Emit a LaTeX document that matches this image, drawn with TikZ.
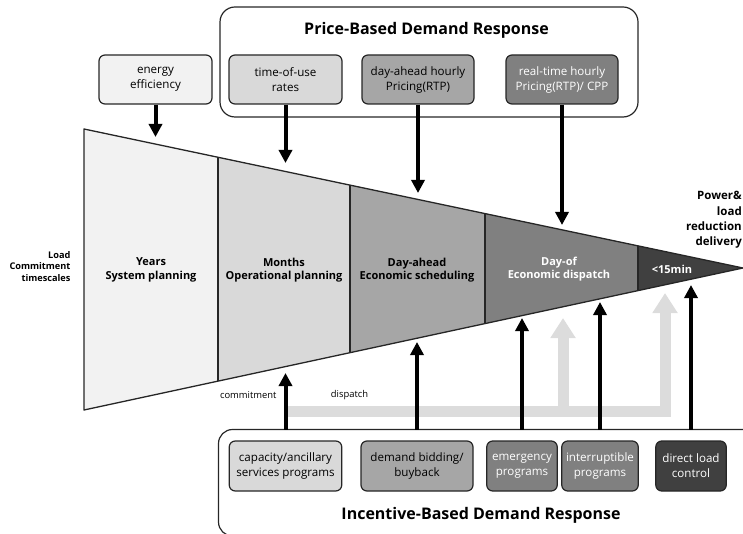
\documentclass[tikz,border=0pt]{standalone}
\usepackage{fontspec}
\setmainfont{Open Sans}
\usetikzlibrary{arrows.meta,calc}
\definecolor{s1}{HTML}{F2F2F2}
\definecolor{s2}{HTML}{D9D9D9}
\definecolor{s3}{HTML}{A6A6A6}
\definecolor{s4}{HTML}{808080}
\definecolor{s5}{HTML}{404040}
\definecolor{gband}{HTML}{DCDCDC}
\definecolor{edge}{HTML}{262626}
\begin{document}
\begin{tikzpicture}[x=1pt,y=-1pt,
  prog/.style={draw=edge, line width=1.2pt, rounded corners=6pt, align=center,
    inner sep=0pt, minimum height=49pt, font=\fontsize{11.6}{15}\selectfont},
  slab/.style={align=center, font=\bfseries\fontsize{11}{13.5}\selectfont},
  arr/.style={line width=4pt, -{Triangle[width=13pt,length=13pt]}},
  garr/.style={gband, line width=11pt, miter limit=10, -{Triangle[width=24pt,length=20pt]}},
  small/.style={font=\fontsize{9.4}{11}\selectfont},
  title/.style={font=\bfseries\fontsize{16}{19}\selectfont}
]
\useasboundingbox (0,0) rectangle (743,534);

% funnel slices
\fill[s1] (84,129) -- (218,157.3) -- (218,381.1) -- (84,410) -- cycle;
\fill[s2] (218,157.3) -- (350,185.1) -- (350,352.7) -- (218,381.1) -- cycle;
\fill[s3] (350,185.1) -- (485,213.6) -- (485,323.6) -- (350,352.7) -- cycle;
\fill[s4] (485,213.6) -- (638,245.8) -- (638,290.6) -- (485,323.6) -- cycle;
\fill[s5] (638,245.8) -- (743,268) -- (638,290.6) -- cycle;
\draw[edge, line width=1.2pt] (218,157.3) -- (218,381.1) (350,185.1) -- (350,352.7)
  (485,213.6) -- (485,323.6) (638,245.8) -- (638,290.6);
\draw[edge, line width=1.3pt, line join=round] (84,129) -- (743,268) -- (84,410) -- cycle;

% slice labels
\node[slab] (l1) at (151,270) {Years\\System planning};
\node[slab] (l2) at (284,270) {Months\\Operational planning};
\node[slab] (l3) at (417,270) {Day-ahead\\Economic scheduling};
\node[slab, text=white] (l4) at (559,269) {Day-of\\Economic dispatch};
\node[slab, text=white] (l5) at (672,269) {<15min};

\node[align=right, anchor=east, font=\bfseries\fontsize{9.2}{11.6}\selectfont] (lct) at (74,266.5) {Load\\Commitment\\timescales};
\node[align=right, anchor=east, inner sep=1pt, font=\bfseries\fontsize{11.5}{15.3}\selectfont] (prd) at (743,220) {Power\&\\load\\reduction\\delivery};

% price-based box
\draw[edge, line width=1.2pt, rounded corners=15pt] (220,7) rectangle (638,117);
\node[title] (ptitle) at (426.5,30) {Price-Based Demand Response};
\node[prog, fill=s1, minimum width=113pt] (ee) at (155.5,79.5) {energy\\efficiency};
\node[prog, fill=s2, minimum width=113pt] (tou) at (285.5,79.5) {time-of-use\\rates};
\node[prog, fill=s3, minimum width=112pt] (dah) at (418,79.5) {day-ahead hourly\\Pricing(RTP)};
\node[prog, fill=s4, minimum width=112pt, text=white] (rt) at (562,79.5) {real-time hourly\\Pricing(RTP)/ CPP};

% incentive-based box
\draw[edge, line width=1.2pt, rounded corners=14pt] (752,429.5) -- (218.5,429.5) -- (218.5,536) -- (752,536);
\node[title] (ititle) at (481,515) {Incentive-Based Demand Response};
\node[prog, fill=s2, minimum width=112.5pt, minimum height=50pt] (cap) at (285.5,466) {capacity/ancillary\\services programs};
\node[prog, fill=s3, minimum width=112pt, minimum height=50pt] (dem) at (417,466) {demand bidding/\\buyback};
\node[prog, fill=s4, minimum width=70.5pt, minimum height=50pt, text=white] (emg) at (522,466) {emergency\\programs};
\node[prog, fill=s4, minimum width=76.5pt, minimum height=50pt, text=white] (int) at (600,466) {interruptible\\programs};
\node[prog, fill=s5, minimum width=70.5pt, minimum height=50pt, text=white] (dlc) at (691,466) {direct load\\control};

% arrow targets
\coordinate (tee) at (155.5,137);
\coordinate (ttou) at (285.5,163);
\coordinate (tdah) at (418,193);
\coordinate (trt) at (562,225);
\coordinate (ib) at (0,429.5);
\coordinate (tcap) at (285.5,373);
\coordinate (tdem) at (417,342);
\coordinate (temg) at (522,318);
\coordinate (tint) at (600,302);
\coordinate (tdlc) at (691,285);
\coordinate (g0) at (287,411);
\coordinate (g1) at (665,411);
\coordinate (g2) at (665,293);
\coordinate (g3) at (563,411);
\coordinate (g4) at (563,318);

% gray dispatch arrows
\draw[garr] (g0) -- (g1) -- (g2);
\draw[garr] (g3) -- (g4);
\node[small, anchor=east] (com) at (280,395.5) {commitment};
\node[small] (dis) at (349.5,395) {dispatch};

% black arrows
\draw[arr] (ee.south) -- (tee);
\draw[arr] (tou.south) -- (ttou);
\draw[arr] (dah.south) -- (tdah);
\draw[arr] (rt.south) -- (trt);
\draw[arr] (cap.north |- ib) -- (tcap);
\draw[arr] (dem.north |- ib) -- (tdem);
\draw[arr] (emg.north |- ib) -- (temg);
\draw[arr] (int.north |- ib) -- (tint);
\draw[arr] (dlc.north |- ib) -- (tdlc);
\end{tikzpicture}
\end{document}
